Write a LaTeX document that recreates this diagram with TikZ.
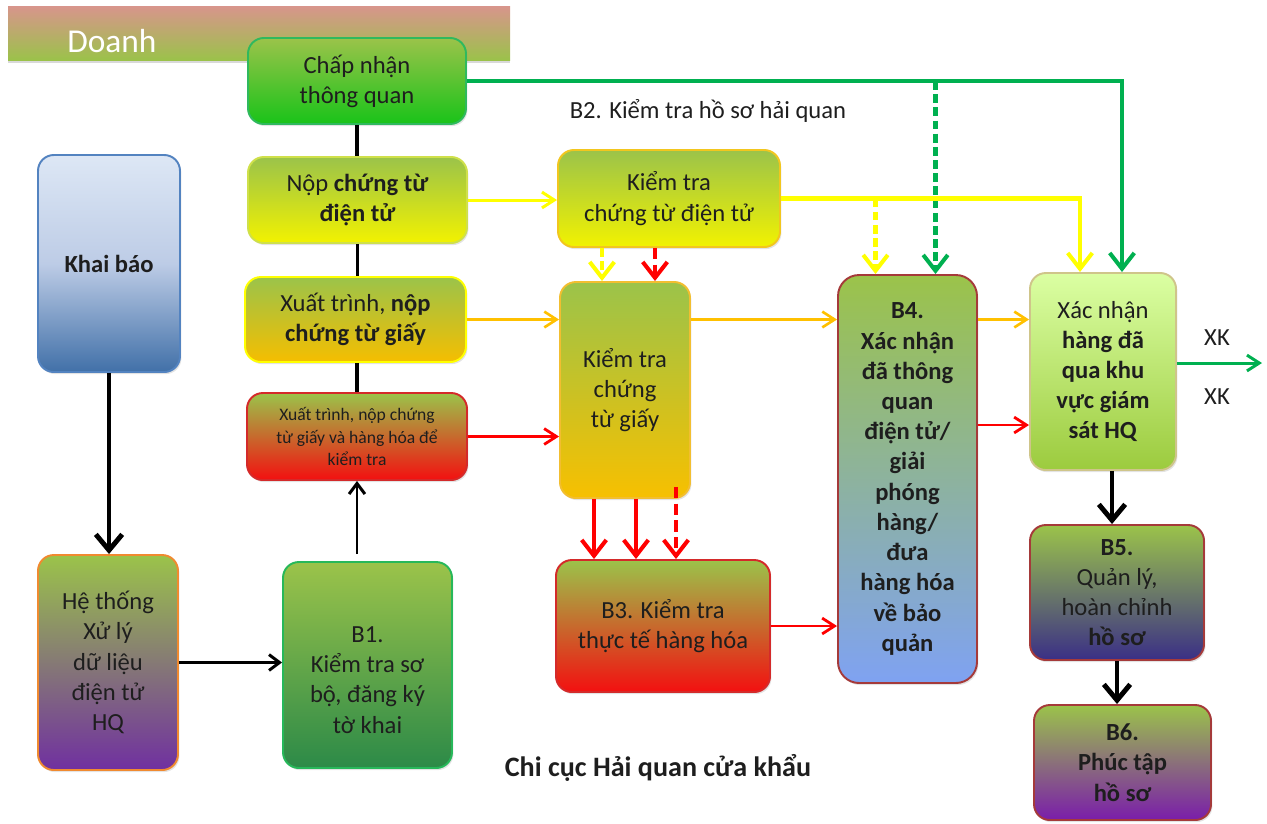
\documentclass[tikz,border=0pt]{standalone}
\usepackage{fontspec}
\setmainfont{Carlito}
\usetikzlibrary{arrows.meta,calc,shadows}

% fills and borders
\definecolor{gTop}{HTML}{9BC34A}
\definecolor{ink}{HTML}{1E1E1E}
\definecolor{fChap}{HTML}{19C319}
\definecolor{bChap}{HTML}{2FB95E}
\definecolor{fYel}{HTML}{F2F200}
\definecolor{bNop}{HTML}{CFE04A}
\definecolor{fOrg}{HTML}{F5BE00}
\definecolor{fRed}{HTML}{F31010}
\definecolor{bRed}{HTML}{D42A2A}
\definecolor{kTop}{HTML}{DDE7F5}
\definecolor{kMid}{HTML}{BDCCE6}
\definecolor{kBot}{HTML}{4170A8}
\definecolor{bBlue}{HTML}{5383C0}
\definecolor{fPurple}{HTML}{7030A0}
\definecolor{bOrange}{HTML}{F08A30}
\definecolor{fB1}{HTML}{2C8A48}
\definecolor{bB1}{HTML}{27B85A}
\definecolor{bKt}{HTML}{F2C61E}
\definecolor{fKtg}{HTML}{F7C000}
\definecolor{bKtg}{HTML}{F2BE30}
\definecolor{fB4}{HTML}{7FA2F2}
\definecolor{bDark}{HTML}{A53A3A}
\definecolor{xnTop}{HTML}{DBFFA3}
\definecolor{xnBot}{HTML}{9CCB3E}
\definecolor{bXn}{HTML}{CFC58A}
\definecolor{fB5}{HTML}{3A2F86}
\definecolor{fB6}{HTML}{7A1DAA}
\definecolor{banTop}{HTML}{D8958C}
\definecolor{banBot}{HTML}{9BC24A}
% connector colours
\definecolor{cGreen}{HTML}{00B050}
\definecolor{cYel}{HTML}{FFFF00}
\definecolor{cOrg}{HTML}{FFC000}
\definecolor{cRed}{HTML}{FF0000}

\tikzset{
  sz/.style 2 args={minimum width=#1*0.02cm, minimum height=#2*0.02cm},
  box/.style={draw, line width=1.1pt, rounded corners=9pt, align=center,
    text=ink, inner sep=2pt, font=\fontsize{14}{17.2}\selectfont,
    drop shadow={shadow xshift=0.8pt, shadow yshift=-1.2pt, opacity=0.22}},
  banner/.style={draw=none, top color=banTop, bottom color=banBot,
    drop shadow={shadow xshift=0pt, shadow yshift=-1.6pt, opacity=0.3}},
  boxtext/.style={align=center, text=ink, inner sep=0pt, font=\fontsize{14}{17.2}\selectfont},
  lbl/.style={text=ink, inner sep=0pt, font=\fontsize{14}{17}\selectfont},
  % connectors
  spine/.style={draw=black, line width=2.2pt},
  bigarrow/.style={draw=black, line width=2.8pt, -{Straight Barb[length=9pt,width=15pt]}},
  midarrow/.style={draw=black, line width=1.7pt, -{Straight Barb[length=6pt,width=9pt]}},
  garrow/.style={draw=cGreen, line width=2.3pt, -{Straight Barb[length=9pt,width=14pt]}},
  gthin/.style={draw=cGreen, line width=1.7pt, -{Straight Barb[length=7pt,width=9pt]}},
  yarrow/.style={draw=cYel, line width=2.3pt, -{Straight Barb[length=9pt,width=14pt]}},
  yhoriz/.style={draw=cYel, line width=1.7pt, -{Straight Barb[length=7pt,width=9pt]}},
  oarrow/.style={draw=cOrg, line width=1.5pt, -{Straight Barb[length=7pt,width=9pt]}},
  rarrow/.style={draw=cRed, line width=1.6pt, -{Straight Barb[length=7pt,width=9pt]}},
  rthick/.style={draw=cRed, line width=2.3pt, -{Straight Barb[length=9pt,width=14pt]}},
  gdash/.style={dash pattern=on 5pt off 2.5pt},
  rdash/.style={dash pattern=on 6.5pt off 3pt}
}

\begin{document}
\begin{tikzpicture}[x=0.02cm, y=-0.02cm]
\useasboundingbox (0,0) rectangle (1267,823);

% ---- enterprise banner ----
\node[banner, sz={502}{54}] (doanh) at (259,33) {};
\node[anchor=base west, inner sep=0pt, text=white, font=\fontsize{19}{22}\selectfont] (doanhlbl) at (67,52) {Doanh};

% ---- enterprise-side steps ----
\node[box, sz={218}{86}, draw=bChap, top color=gTop, bottom color=fChap] (chap) at (357,81) {Chấp nhận\\thông quan};
\node[box, sz={219}{86}, draw=bNop, top color=gTop, bottom color=fYel] (nop) at (357.5,200) {Nộp \textbf{chứng từ}\\\textbf{điện tử}};
\node[box, sz={221}{85}, draw=cYel, top color=gTop, bottom color=fOrg] (xuat) at (355.5,319.5) {Xuất trình, \textbf{nộp}\\\textbf{chứng từ giấy}};
\node[box, sz={220}{87}, draw=bRed, top color=gTop, bottom color=fRed, font=\fontsize{10}{13}\selectfont] (xuathh) at (357,436.5) {Xuất trình, nộp chứng\\từ giấy và hàng hóa để\\kiểm tra};

\node[box, sz={142}{217}, draw=bBlue, top color=kTop, bottom color=kBot, middle color=kMid] (khai) at (109,263.5) {\textbf{Khai báo}};
\node[box, sz={140}{215}, draw=bOrange, top color=gTop, bottom color=fPurple] (heth) at (108,662.5) {Hệ thống\\Xử lý\\dữ liệu\\điện tử\\HQ};

% ---- customs-side steps ----
\node[box, sz={169}{206}, draw=bB1, top color=gTop, bottom color=fB1] (b1) at (367.5,665) {};
\node[boxtext] (b1txt) at (367.5,680) {B1.\\Kiểm tra sơ\\bộ, đăng ký\\tờ khai};

\node[box, sz={222}{97}, draw=bKt, top color=gTop, bottom color=fYel] (ktdt) at (669,198.5) {Kiểm tra\\chứng từ điện tử};
\node[box, sz={130}{216}, draw=bKtg, top color=gTop, bottom color=fKtg] (ktg) at (625,390) {Kiểm tra\\chứng\\từ giấy};
\node[box, sz={214}{132}, draw=bRed, top color=gTop, bottom color=fRed] (b3) at (663,626) {B3. Kiểm tra\\thực tế hàng hóa};

\node[box, sz={139}{408}, draw=bDark, top color=gTop, bottom color=fB4, rounded corners=12pt] (b4) at (907.5,479)
  {\textbf{B4.}\\\textbf{Xác nhận}\\\textbf{đã thông}\\\textbf{quan}\\\textbf{điện tử/}\\\textbf{giải}\\\textbf{phóng}\\\textbf{hàng/}\\\textbf{đưa}\\\textbf{hàng hóa}\\\textbf{về bảo}\\\textbf{quản}};

\node[box, sz={146}{197}, draw=bXn, top color=xnTop, bottom color=xnBot] (xn) at (1103,371.5)
  {Xác nhận\\\textbf{hàng đã}\\\textbf{qua khu}\\\textbf{vực giám}\\\textbf{sát HQ}};
\node[box, sz={174}{135}, draw=bDark, top color=gTop, bottom color=fB5] (b5) at (1117,592.5) {\textbf{B5.}\\Quản lý,\\hoàn chỉnh\\\textbf{hồ sơ}};
\node[box, sz={177}{115}, draw=bDark, top color=gTop, bottom color=fB6] (b6) at (1122.5,762.5) {\textbf{B6.}\\\textbf{Phúc tập}\\\textbf{hồ sơ}};

% ---- free labels ----
\node[lbl] (b2lbl) at (708,111) {B2. Kiểm tra hồ sơ hải quan};
\node[lbl, font={\fontsize{16}{19}\selectfont\bfseries}] (chicuc) at (658,768) {Chi cục Hải quan cửa khẩu};
\node[lbl] (xkTop) at (1217,338) {XK};
\node[lbl] (xkBot) at (1217,397) {XK};

% ---- black links ----
\draw[spine] (chap.south) -- (chap.south |- nop.north);
\draw[spine] (nop.south) -- (nop.south |- xuat.north);
\draw[spine] (xuat.south -| xuathh.south) -- (xuathh.north);
\draw[bigarrow] (khai.south) -- (khai.south |- heth.north);
\draw[midarrow] (heth.east) -- (heth.east -| b1.west);
\coordinate (b1up) at ($(xuathh.south |- b1.north)+(0,-7)$);
\draw[midarrow] (b1up) -- (xuathh.south);
\coordinate (xnDown) at ($(xn.south)+(9,0)$);
\draw[bigarrow] (xnDown) -- (xnDown |- b5.north);
\draw[bigarrow] (b5.south) -- (b5.south |- b6.north);

% ---- green: clearance accepted ----
\coordinate (gXn) at ($(xn.north)+(19,0)$);
\coordinate (gB4) at ($(b4.north)+(28,0)$);
\draw[garrow] (chap.east) -| (gXn);
\draw[garrow, gdash] (gB4 |- chap.east) -- (gB4);
\coordinate (xkEnd) at (1262,363);
\draw[gthin] (xn.east |- xkEnd) -- (xkEnd);

% ---- yellow: electronic documents ----
\coordinate (yXn) at ($(xn.north)+(-23,0)$);
\coordinate (yB4) at ($(b4.north)+(-32,0)$);
\coordinate (yKtg) at ($(ktg.north)+(-23,0)$);
\draw[yhoriz] (nop.east) -- (nop.east -| ktdt.west);
\draw[yarrow] (ktdt.east) -| (yXn);
\draw[yarrow, gdash] (yB4 |- ktdt.east) -- (yB4);
\draw[yarrow, gdash] (yKtg |- ktdt.south) -- (yKtg);

% ---- orange: paper documents ----
\draw[oarrow] (xuat.east) -- (xuat.east -| ktg.west);
\draw[oarrow] (xuat.east -| ktg.east) -- (xuat.east -| b4.west);
\draw[oarrow] (xuat.east -| b4.east) -- (xuat.east -| xn.west);

% ---- red: physical inspection ----
\coordinate (rKtg) at ($(ktg.north)+(30,0)$);
\draw[rthick, rdash] (rKtg |- ktdt.south) -- (rKtg);
\draw[rarrow] (xuathh.east) -- (xuathh.east -| ktg.west);
\coordinate (r1) at ($(ktg.south)+(-31,0)$);
\coordinate (r2) at ($(ktg.south)+(11,0)$);
\coordinate (r3) at ($(ktg.south)+(51,-12)$);
\draw[rthick] (r1) -- (r1 |- b3.north);
\draw[rthick] (r2) -- (r2 |- b3.north);
\draw[rthick, rdash] (r3) -- (r3 |- b3.north);
\draw[rarrow] (b3.east) -- (b3.east -| b4.west);
\coordinate (rB4) at ($(b4.east)+(0,-54)$);
\draw[rarrow] (rB4) -- (rB4 -| xn.west);
\end{tikzpicture}
\end{document}
